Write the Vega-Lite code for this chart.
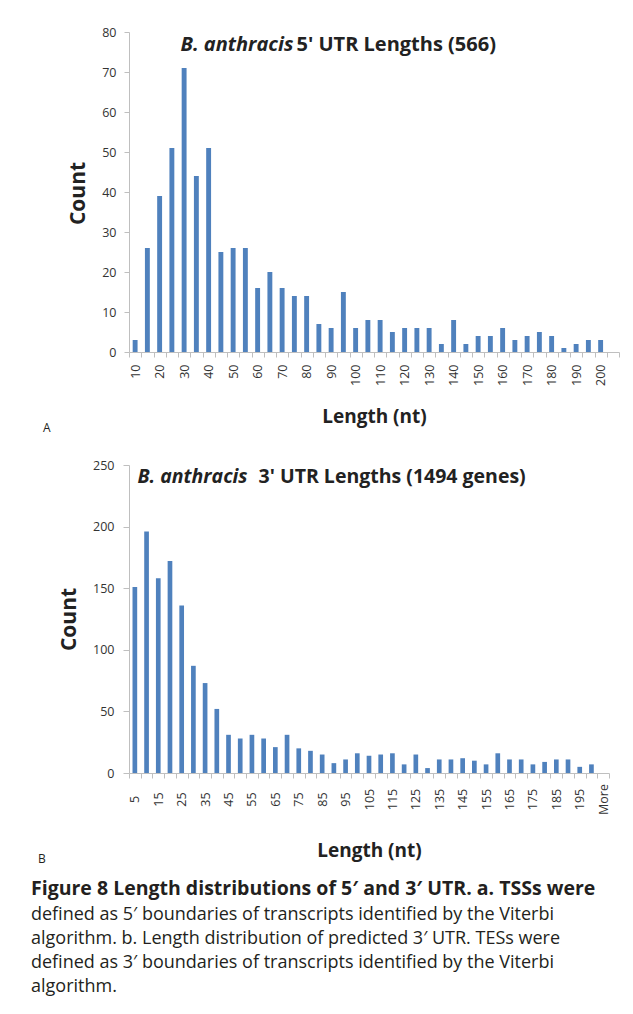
{
  "$schema": "https://vega.github.io/schema/vega-lite/v6.json",
  "background": "white",
  "autosize": {"type": "pad"},
  "padding": {"left": 31, "top": 26, "right": 5, "bottom": 5},
  "datasets": {
    "utr5": [
      {"len": "10", "count": 3}, {"len": "15", "count": 26}, {"len": "20", "count": 39}, {"len": "25", "count": 51},
      {"len": "30", "count": 71}, {"len": "35", "count": 44}, {"len": "40", "count": 51}, {"len": "45", "count": 25},
      {"len": "50", "count": 26}, {"len": "55", "count": 26}, {"len": "60", "count": 16}, {"len": "65", "count": 20},
      {"len": "70", "count": 16}, {"len": "75", "count": 14}, {"len": "80", "count": 14}, {"len": "85", "count": 7},
      {"len": "90", "count": 6}, {"len": "95", "count": 15}, {"len": "100", "count": 6}, {"len": "105", "count": 8},
      {"len": "110", "count": 8}, {"len": "115", "count": 5}, {"len": "120", "count": 6}, {"len": "125", "count": 6},
      {"len": "130", "count": 6}, {"len": "135", "count": 2}, {"len": "140", "count": 8}, {"len": "145", "count": 2},
      {"len": "150", "count": 4}, {"len": "155", "count": 4}, {"len": "160", "count": 6}, {"len": "165", "count": 3},
      {"len": "170", "count": 4}, {"len": "175", "count": 5}, {"len": "180", "count": 4}, {"len": "185", "count": 1},
      {"len": "190", "count": 2}, {"len": "195", "count": 3}, {"len": "200", "count": 3}, {"len": "More", "count": 0}
    ],
    "utr3": [
      {"len": "5", "count": 151}, {"len": "10", "count": 196}, {"len": "15", "count": 158}, {"len": "20", "count": 172},
      {"len": "25", "count": 136}, {"len": "30", "count": 87}, {"len": "35", "count": 73}, {"len": "40", "count": 52},
      {"len": "45", "count": 31}, {"len": "50", "count": 28}, {"len": "55", "count": 31}, {"len": "60", "count": 28},
      {"len": "65", "count": 21}, {"len": "70", "count": 31}, {"len": "75", "count": 20}, {"len": "80", "count": 18},
      {"len": "85", "count": 15}, {"len": "90", "count": 8}, {"len": "95", "count": 11}, {"len": "100", "count": 16},
      {"len": "105", "count": 14}, {"len": "110", "count": 15}, {"len": "115", "count": 16}, {"len": "120", "count": 7},
      {"len": "125", "count": 15}, {"len": "130", "count": 4}, {"len": "135", "count": 11}, {"len": "140", "count": 11},
      {"len": "145", "count": 12}, {"len": "150", "count": 10}, {"len": "155", "count": 7}, {"len": "160", "count": 16},
      {"len": "165", "count": 11}, {"len": "170", "count": 11}, {"len": "175", "count": 7}, {"len": "180", "count": 9},
      {"len": "185", "count": 11}, {"len": "190", "count": 11}, {"len": "195", "count": 5}, {"len": "200", "count": 7},
      {"len": "More", "count": 0}
    ]
  },
  "title": {
    "text": "Figure 8 Length distributions of 5′ and 3′ UTR. a. TSSs were",
    "subtitle": [
      "defined as 5′ boundaries of transcripts identified by the Viterbi",
      "algorithm. b. Length distribution of predicted 3′ UTR. TESs were",
      "defined as 3′ boundaries of transcripts identified by the Viterbi",
      "algorithm."
    ],
    "orient": "bottom",
    "anchor": "start",
    "frame": "bounds",
    "dx": -7,
    "offset": 15,
    "font": "Open Sans",
    "fontSize": 19.5,
    "fontWeight": "bold",
    "color": "#231f20",
    "subtitleFont": "Open Sans",
    "subtitleFontSize": 18,
    "subtitleFontWeight": "normal",
    "subtitleColor": "#231f20",
    "subtitleLineHeight": 24.3,
    "subtitlePadding": 6
  },
  "spacing": 25,
  "align": "none",
  "vconcat": [
    {
      "width": 490,
      "height": 320,
      "data": {"name": "utr5"},
      "title": {
        "text": "A",
        "orient": "bottom",
        "anchor": "start",
        "frame": "bounds",
        "dx": -24,
        "offset": -3,
        "font": "Open Sans",
        "fontSize": 12,
        "fontWeight": "normal",
        "color": "#231f20"
      },
      "layer": [
        {
          "mark": {"type": "bar", "color": "#4F81BD", "width": {"band": 0.4}},
          "encoding": {
            "x": {
              "field": "len", "type": "ordinal", "sort": null,
              "scale": {"paddingInner": 0, "paddingOuter": 0},
              "axis": {
                "orient": "bottom",
                "title": "Length (nt)",
                "labelAngle": -90,
                "labelOverlap": false,
                "labelExpr": "datum.value != 'More' && (+datum.value) % 10 == 0 ? datum.label : ''",
                "tickBand": "extent",
                "tickSize": 5,
                "labelPadding": 7,
                "titleY": 64,
                "titleBaseline": "middle",
                "titleFontSize": 19
              }
            },
            "y": {
              "field": "count", "type": "quantitative",
              "scale": {"domain": [0, 80], "nice": false},
              "axis": {
                "title": "Count",
                "values": [0, 10, 20, 30, 40, 50, 60, 70, 80],
                "tickSize": 5,
                "labelPadding": 8,
                "titleX": -51,
                "titleY": 161,
                "titleAlign": "center",
                "titleBaseline": "middle",
                "titleFontSize": 21
              }
            }
          }
        },
        {
          "mark": {"type": "bar", "opacity": 0},
          "encoding": {
            "x": {
              "field": "len", "type": "ordinal", "sort": null,
              "axis": {
                "orient": "bottom", "labels": false, "ticks": false, "domain": false,
                "title": "5' UTR Lengths (566)", "titleX": 167, "titleY": -308,
                "titleAlign": "left", "titleBaseline": "middle", "titleFontSize": 20
              }
            },
            "y": {
              "field": "count", "type": "quantitative",
              "axis": {
                "orient": "left", "labels": false, "ticks": false, "domain": false,
                "title": "B. anthracis", "titleAngle": 0, "titleX": 51, "titleY": 12,
                "titleAlign": "left", "titleBaseline": "middle",
                "titleFontStyle": "italic", "titleFontSize": 20
              }
            }
          }
        }
      ],
      "resolve": {"axis": {"x": "independent", "y": "independent"}}
    },
    {
      "width": 480,
      "height": 308,
      "data": {"name": "utr3"},
      "title": {
        "text": "B",
        "orient": "bottom",
        "anchor": "start",
        "frame": "bounds",
        "dx": -20,
        "offset": -6,
        "font": "Open Sans",
        "fontSize": 12,
        "fontWeight": "normal",
        "color": "#231f20"
      },
      "layer": [
        {
          "mark": {"type": "bar", "color": "#4F81BD", "width": {"band": 0.4}},
          "encoding": {
            "x": {
              "field": "len", "type": "ordinal", "sort": null,
              "scale": {"paddingInner": 0, "paddingOuter": 0},
              "axis": {
                "orient": "bottom",
                "title": "Length (nt)",
                "labelAngle": -90,
                "labelAlign": "center",
                "labelOverlap": false,
                "labelExpr": "datum.value == 'More' || (+datum.value) % 10 == 5 ? datum.label : ''",
                "tickBand": "extent",
                "tickSize": 5,
                "labelPadding": 21,
                "titleY": 77,
                "titleBaseline": "middle",
                "titleFontSize": 19
              }
            },
            "y": {
              "field": "count", "type": "quantitative",
              "scale": {"domain": [0, 250], "nice": false},
              "axis": {
                "title": "Count",
                "values": [0, 50, 100, 150, 200, 250],
                "tickSize": 6,
                "labelPadding": 9,
                "titleX": -60,
                "titleY": 154,
                "titleAlign": "center",
                "titleBaseline": "middle",
                "titleFontSize": 21
              }
            }
          }
        },
        {
          "mark": {"type": "bar", "opacity": 0},
          "encoding": {
            "x": {
              "field": "len", "type": "ordinal", "sort": null,
              "axis": {
                "orient": "bottom", "labels": false, "ticks": false, "domain": false,
                "title": "3' UTR Lengths (1494 genes)", "titleX": 129, "titleY": -297,
                "titleAlign": "left", "titleBaseline": "middle", "titleFontSize": 19.5
              }
            },
            "y": {
              "field": "count", "type": "quantitative",
              "axis": {
                "orient": "left", "labels": false, "ticks": false, "domain": false,
                "title": "B. anthracis", "titleAngle": 0, "titleX": 8, "titleY": 11,
                "titleAlign": "left", "titleBaseline": "middle",
                "titleFontStyle": "italic", "titleFontSize": 19.5
              }
            }
          }
        }
      ],
      "resolve": {"axis": {"x": "independent", "y": "independent"}}
    }
  ],
  "config": {
    "view": {"stroke": null},
    "axis": {
      "labelFont": "Open Sans",
      "labelFontSize": 12.5,
      "labelColor": "#333333",
      "titleFont": "Open Sans",
      "titleFontSize": 18.5,
      "titleFontWeight": "bold",
      "titleColor": "#222222",
      "domainColor": "#BFBFBF",
      "tickColor": "#BFBFBF",
      "grid": false
    }
  }
}
